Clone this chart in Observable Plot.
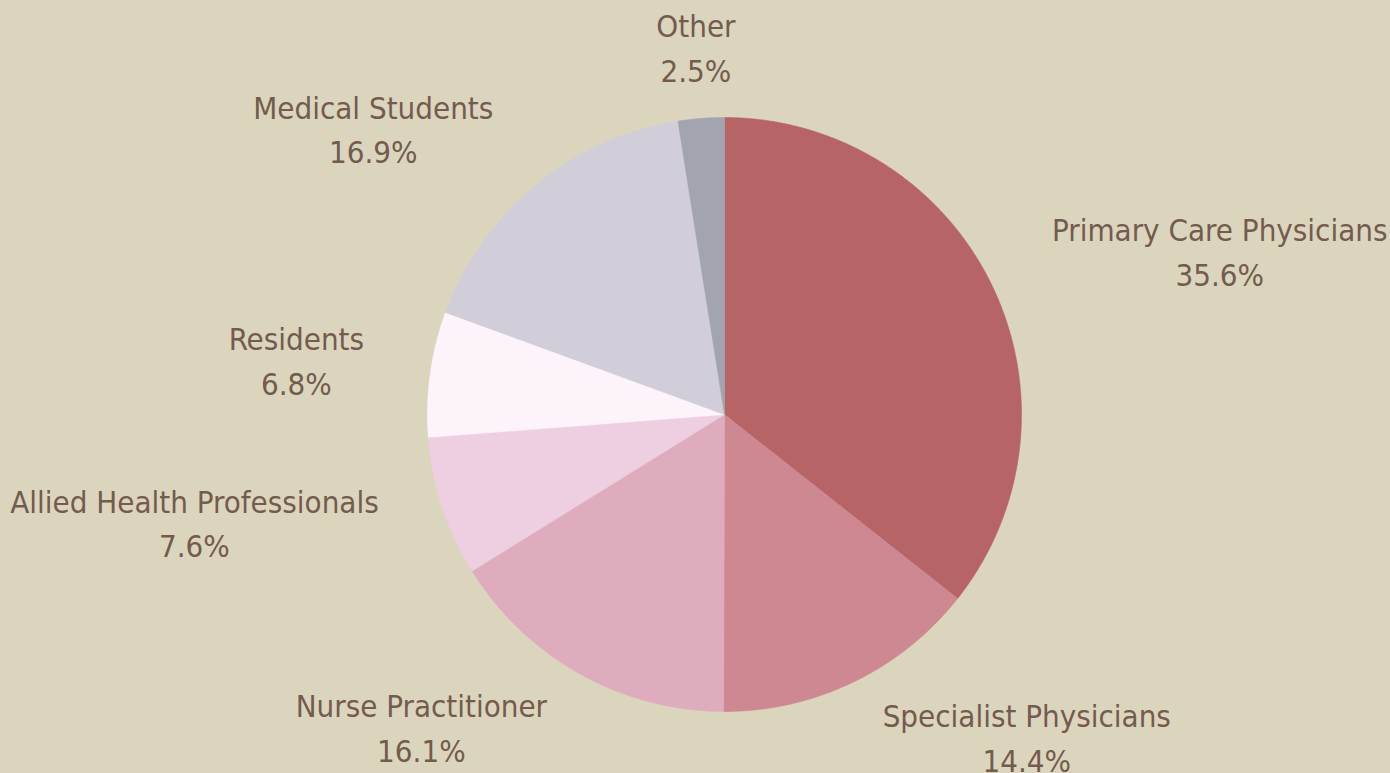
<!DOCTYPE html>
<html>
<head>
<meta charset="utf-8">
<script src="https://cdn.jsdelivr.net/npm/d3@7"></script>
<script src="https://cdn.jsdelivr.net/npm/@observablehq/plot@0.6"></script>
<style>
  html, body { margin: 0; padding: 0; background: #DCD5BE; }
  #chart svg { display: block; }
</style>
</head>
<body>
<div id="chart"></div>
<script>
const categories = ["Primary Care Physicians", "Specialist Physicians", "Nurse Practitioner", "Allied Health Professionals", "Residents", "Medical Students", "Other"];
const shares = [35.6, 14.4, 16.1, 7.6, 6.8, 16.9, 2.5];
const colors = ["#B76467", "#CD8892", "#DFACBD", "#EDCFE1", "#FDF4FB", "#D1CED9", "#A2A5AF"];

const W = 1390, H = 773;
const cx = 724, cy = 414, R = 297;   // layout (pixels)
const labelR = 1.225;                 // label radius in pie-radius units
const fontSize = 31;
const font = "'Liberation Sans Narrow', 'DejaVu Sans Condensed', sans-serif";

const pie = d3.pie().sort(null).value(d => d)(shares);

// slice polygons in unit-radius coordinates (angle measured clockwise from top)
const slicePts = [];
pie.forEach((p, i) => {
  const n = Math.max(2, Math.ceil((p.endAngle - p.startAngle) / (Math.PI / 720)));
  slicePts.push({cat: categories[i], x: 0, y: 0});
  for (let k = 0; k <= n; k++) {
    const a = p.startAngle + (p.endAngle - p.startAngle) * k / n;
    slicePts.push({cat: categories[i], x: Math.sin(a), y: Math.cos(a)});
  }
  slicePts.push({cat: categories[i], x: 0, y: 0});
});

// measure label blocks so both lines are centred within the block
const ctx = document.createElement("canvas").getContext("2d");
ctx.font = `${fontSize}px ${font}`;
const labels = pie.map((p, i) => {
  const a = (p.startAngle + p.endAngle) / 2;
  const s = Math.sin(a);
  const lines = [categories[i], shares[i].toFixed(1) + "%"];
  const w = d3.max(lines, l => ctx.measureText(l).width) / R;
  const ax = labelR * s;
  const shift = Math.abs(s) < 0.15 ? 0 : (s > 0 ? w / 2 : -w / 2);
  return {
    cat: categories[i],
    text: lines.join("\n"),
    x: ax + shift,
    y: labelR * Math.cos(a)
  };
});

const chart = Plot.plot({
  width: W, height: H,
  margin: 0,
  style: {background: "#DCD5BE", fontFamily: font},
  x: {domain: [-cx / R, (W - cx) / R], axis: null},
  y: {domain: [-(H - cy) / R, cy / R], axis: null},
  color: {domain: categories, range: colors},
  marks: [
    Plot.line(slicePts, {x: "x", y: "y", z: "cat", fill: "cat", stroke: "cat", strokeWidth: 0.6, curve: "linear"}),
    Plot.text(labels, {
      x: "x", y: "y", text: "text", fill: "#735B4E",
      fontSize, lineHeight: 1.45, lineAnchor: "middle", textAnchor: "middle",
      dy: -7, fontFamily: font
    })
  ]
});
document.getElementById("chart").appendChild(chart);
</script>
</body>
</html>
